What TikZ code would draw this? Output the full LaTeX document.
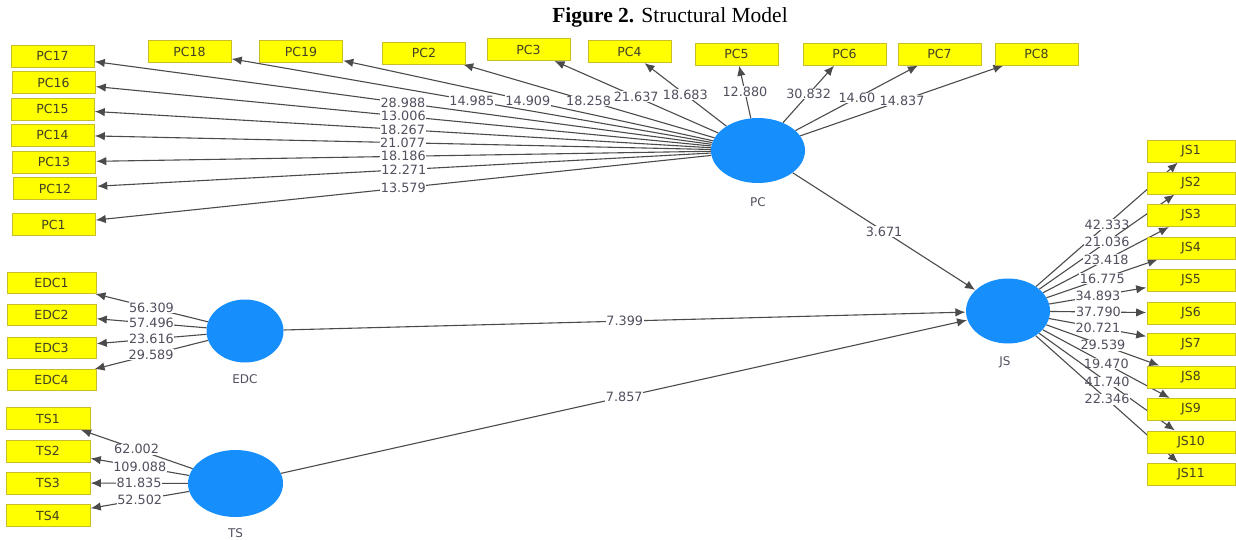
\documentclass[tikz,border=0pt]{standalone}
\usepackage{fontspec}
\setmainfont{Liberation Serif}
\newfontfamily\plsfont{DejaVu Sans}
\usetikzlibrary{arrows.meta,shapes.geometric}
\pgfdeclarelayer{edges}
\pgfsetlayers{edges,main}
\definecolor{boxyellow}{RGB}{255,255,0}
\definecolor{boxedge}{RGB}{200,190,40}
\definecolor{lvblue}{RGB}{22,142,252}
\definecolor{edgegray}{RGB}{75,75,75}
\definecolor{numgray}{RGB}{80,80,95}
\definecolor{boxtext}{RGB}{65,65,35}
\tikzset{
  ind/.style={draw=boxedge, line width=0.6pt, fill=boxyellow, minimum height=22pt, inner sep=0pt,
              font=\plsfont\fontsize{12.5}{13}\selectfont, text=boxtext},
  pcbox/.style={ind, minimum width=83pt},
  jsbox/.style={ind, minimum width=88pt},
  edcbox/.style={ind, minimum width=89pt, minimum height=21pt},
  tsbox/.style={ind, minimum width=84pt},
  lv/.style={ellipse, fill=lvblue, inner sep=0pt},
  lvname/.style={font=\plsfont\fontsize{12}{13}\selectfont, text=numgray},
  conn/.style={draw=edgegray, line width=1.1pt, -{Latex[length=10pt,width=8.5pt]}, shorten >=0.5pt},
  num/.style={fill=white, inner sep=0.6pt, font=\plsfont\fontsize{12.8}{13}\selectfont, text=numgray, midway}
}
\begin{document}
\begin{tikzpicture}[x=1pt,y=-1pt]
\useasboundingbox (0,0) rectangle (1236,539);
% title
\node (title) at (670,17) {\fontsize{21.5}{24}\selectfont\textbf{Figure 2.} Structural Model};
% latent variables
\node[lv, minimum width=94pt, minimum height=65pt] (PC) at (758,150.5) {};
\node[lv, minimum width=77pt, minimum height=63pt] (EDC) at (245,331) {};
\node[lv, minimum width=95pt, minimum height=67pt] (TS) at (235.5,483.5) {};
\node[lv, minimum width=84pt, minimum height=65pt] (JS) at (1008,311) {};
\node[lvname] (PClab) at (758,202) {PC};
\node[lvname] (EDClab) at (245,379) {EDC};
\node[lvname] (TSlab) at (235.5,533) {TS};
\node[lvname] (JSlab) at (1005,362) {JS};
% PC indicators
\node[pcbox] (PC17) at (52.5,56) {PC17};
\node[pcbox] (PC16) at (53.5,82.5) {PC16};
\node[pcbox] (PC15) at (52.5,109) {PC15};
\node[pcbox] (PC14) at (52.5,135) {PC14};
\node[pcbox] (PC13) at (54,162) {PC13};
\node[pcbox] (PC12) at (55,188.5) {PC12};
\node[pcbox] (PC1) at (53.5,224.5) {PC1};
\node[pcbox] (PC18) at (189.5,51.5) {PC18};
\node[pcbox] (PC19) at (301,51.5) {PC19};
\node[pcbox] (PC2) at (424,53) {PC2};
\node[pcbox] (PC3) at (528.5,49.5) {PC3};
\node[pcbox] (PC4) at (629.5,51.5) {PC4};
\node[pcbox] (PC5) at (736.5,54) {PC5};
\node[pcbox] (PC6) at (844.5,54) {PC6};
\node[pcbox] (PC7) at (939.5,54) {PC7};
\node[pcbox] (PC8) at (1036.5,54) {PC8};
% JS indicators
\node[jsbox] (JS1) at (1191,151) {JS1};
\node[jsbox] (JS2) at (1191,183) {JS2};
\node[jsbox] (JS3) at (1191,215.5) {JS3};
\node[jsbox] (JS4) at (1191,248) {JS4};
\node[jsbox] (JS5) at (1191,280) {JS5};
\node[jsbox] (JS6) at (1191,313) {JS6};
\node[jsbox] (JS7) at (1191,344.5) {JS7};
\node[jsbox] (JS8) at (1191,377) {JS8};
\node[jsbox] (JS9) at (1191,409.5) {JS9};
\node[jsbox] (JS10) at (1191,442) {JS10};
\node[jsbox] (JS11) at (1191,474) {JS11};
% EDC indicators
\node[edcbox] (EDC1) at (51.5,283) {EDC1};
\node[edcbox] (EDC2) at (51.5,315) {EDC2};
\node[edcbox] (EDC3) at (51.5,347.5) {EDC3};
\node[edcbox] (EDC4) at (51.5,380) {EDC4};
% TS indicators
\node[tsbox] (TS1) at (48,418.5) {TS1};
\node[tsbox] (TS2) at (48,451) {TS2};
\node[tsbox] (TS3) at (48,483) {TS3};
\node[tsbox] (TS4) at (48,515.5) {TS4};
\begin{pgfonlayer}{edges}
% PC loadings
\draw[conn] (PC) -- node[num] {28.988} (PC17);
\draw[conn] (PC) -- node[num] {13.006} (PC16);
\draw[conn] (PC) -- node[num] {18.267} (PC15);
\draw[conn] (PC) -- node[num] {21.077} (PC14);
\draw[conn] (PC) -- node[num] {18.186} (PC13);
\draw[conn] (PC) -- node[num] {12.271} (PC12);
\draw[conn] (PC) -- node[num] {13.579} (PC1);
\draw[conn] (PC) -- node[num] {14.985} (PC18);
\draw[conn] (PC) -- node[num] {14.909} (PC19);
\draw[conn] (PC) -- node[num] {18.258} (PC2);
\draw[conn] (PC) -- node[num] {21.637} (PC3);
\draw[conn] (PC) -- node[num] {18.683} (PC4);
\draw[conn] (PC) -- node[num] {12.880} (PC5);
\draw[conn] (PC) -- node[num] {30.832} (PC6);
\draw[conn] (PC) -- node[num] {14.60} (PC7);
\draw[conn] (PC) -- node[num] {14.837} (PC8);
% JS loadings
\draw[conn] (JS) -- node[num] {42.333} (JS1);
\draw[conn] (JS) -- node[num] {21.036} (JS2);
\draw[conn] (JS) -- node[num] {23.418} (JS3);
\draw[conn] (JS) -- node[num] {16.775} (JS4);
\draw[conn] (JS) -- node[num] {34.893} (JS5);
\draw[conn] (JS) -- node[num] {37.790} (JS6);
\draw[conn] (JS) -- node[num] {20.721} (JS7);
\draw[conn] (JS) -- node[num] {29.539} (JS8);
\draw[conn] (JS) -- node[num] {19.470} (JS9);
\draw[conn] (JS) -- node[num] {41.740} (JS10);
\draw[conn] (JS) -- node[num] {22.346} (JS11);
% EDC loadings
\draw[conn] (EDC) -- node[num] {56.309} (EDC1);
\draw[conn] (EDC) -- node[num] {57.496} (EDC2);
\draw[conn] (EDC) -- node[num] {23.616} (EDC3);
\draw[conn] (EDC) -- node[num] {29.589} (EDC4);
% TS loadings
\draw[conn] (TS) -- node[num] {62.002} (TS1);
\draw[conn] (TS) -- node[num] {109.088} (TS2);
\draw[conn] (TS) -- node[num] {81.835} (TS3);
\draw[conn] (TS) -- node[num] {52.502} (TS4);
% structural paths
\draw[conn] (PC) -- node[num] {3.671} (JS);
\draw[conn] (EDC) -- node[num] {7.399} (JS);
\draw[conn] (TS) -- node[num] {7.857} (JS);
\end{pgfonlayer}
\end{tikzpicture}
\end{document}
